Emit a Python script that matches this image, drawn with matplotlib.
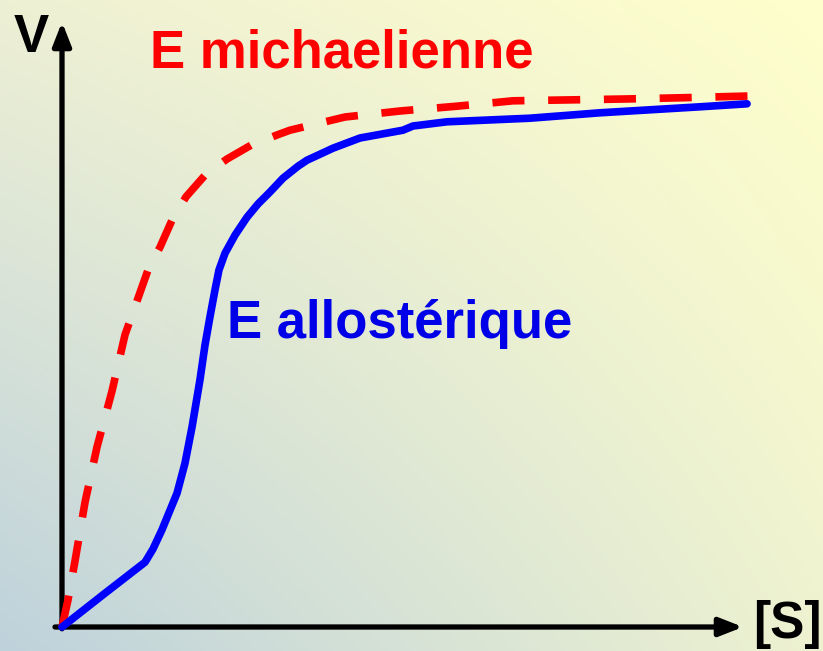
import numpy as np
import matplotlib
matplotlib.use("Agg")
import matplotlib.pyplot as plt

# Data (substrate concentration S, velocity V)
s_mich = [0, 0.088, 0.191, 0.338, 0.514, 0.734, 0.925, 1.116, 1.263, 1.439,
          1.615, 1.821, 2.100, 2.423, 2.775, 3.157, 3.348, 4.156, 4.963,
          5.800, 6.623, 8.267, 9.075, 10.103]
v_mich = [0, 0.045, 0.110, 0.208, 0.300, 0.393, 0.487, 0.548, 0.595, 0.633,
          0.678, 0.717, 0.753, 0.780, 0.803, 0.820, 0.828, 0.850, 0.860,
          0.868, 0.877, 0.880, 0.882, 0.885]

s_allo = [0, 0.617, 1.219, 1.336, 1.468, 1.689, 1.806, 1.909, 2.026, 2.100,
          2.173, 2.247, 2.305, 2.394, 2.540, 2.717, 2.878, 3.054, 3.245,
          3.466, 3.598, 3.789, 3.979, 4.376, 5.007, 5.154, 5.653, 6.872,
          7.900, 9.369, 10.059]
v_allo = [0, 0.055, 0.108, 0.130, 0.162, 0.223, 0.273, 0.333, 0.412, 0.470,
          0.517, 0.562, 0.595, 0.623, 0.653, 0.683, 0.705, 0.725, 0.748,
          0.768, 0.778, 0.788, 0.798, 0.815, 0.828, 0.835, 0.842, 0.848,
          0.857, 0.867, 0.872]

label_mich = "E michaelienne"
label_allo = "E allostérique"
xlabel = "[S]"
ylabel = "V"

W, H = 823, 651
fig = plt.figure(figsize=(W / 100, H / 100), dpi=100)

# background gradient
bg = fig.add_axes([0, 0, 1, 1])
bg.set_axis_off()
tl = np.array([238, 240, 212]) / 255
tr = np.array([255, 255, 204]) / 255
bl = np.array([190, 210, 220]) / 255
br = np.array([238, 242, 208]) / 255
u = np.linspace(0, 1, W)[None, :, None]
v = np.linspace(0, 1, H)[:, None, None]
img = (1 - v) * ((1 - u) * tl + u * tr) + v * ((1 - u) * bl + u * br)
bg.imshow(img, aspect="auto", extent=[0, 1, 0, 1], origin="upper")
bg.set_xlim(0, 1)
bg.set_ylim(0, 1)

ax = fig.add_axes([0, 0, 1, 1])
ax.set_axis_off()
ax.patch.set_alpha(0)
pxu = 68.1
pyu = 600.0
x0, y0 = 62, 627
ax.set_xlim(-x0 / pxu, (W - x0) / pxu)
ax.set_ylim(-(H - y0) / pyu, y0 / pyu)

# axes arrows
ax.annotate("", xy=(0, (y0 - 22) / pyu), xytext=(0, -0.003),
            arrowprops=dict(arrowstyle="-|>,head_length=1.4,head_width=0.55",
                            lw=3.8, color="black", shrinkA=0, shrinkB=0))
ax.annotate("", xy=((743 - x0) / pxu, 0), xytext=(-7 / pxu, 0),
            arrowprops=dict(arrowstyle="-|>,head_length=1.4,head_width=0.55",
                            lw=3.8, color="black", shrinkA=0, shrinkB=0))

ax.plot(s_mich, v_mich, color="#FF0000", lw=5.5, dashes=(4.2, 3.1),
        dash_capstyle="butt", dash_joinstyle="round", zorder=3)
ax.plot(s_allo, v_allo, color="#0000FF", lw=5.5, solid_capstyle="round",
        solid_joinstyle="round", zorder=4)

font = dict(family=["Liberation Sans", "DejaVu Sans"], fontweight="bold")
ax.text((150 - x0) / pxu, (y0 - 67) / pyu, label_mich, color="#FF0000",
        fontsize=38, va="baseline", ha="left", **font)
ax.text((227 - x0) / pxu, (y0 - 338) / pyu, label_allo, color="#0000E8",
        fontsize=38, va="baseline", ha="left", **font)
ax.text((14 - x0) / pxu, (y0 - 52) / pyu, ylabel, color="black",
        fontsize=38, va="baseline", ha="left", **font)
ax.text((753 - x0) / pxu, (y0 - 638) / pyu, xlabel, color="black",
        fontsize=37, va="baseline", ha="left", **font)

fig.savefig("out.png", dpi=100)
